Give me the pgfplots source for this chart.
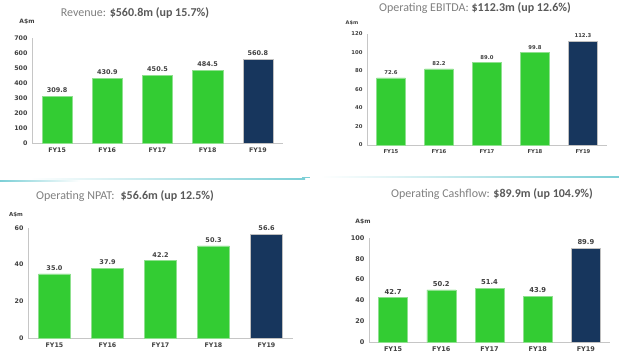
\documentclass[border=0pt]{standalone}
\usepackage{pgfplots}
\pgfplotsset{compat=1.18}
\usepackage{fontspec}
\setmainfont{Carlito}
\newfontfamily\lab{DejaVu Sans}
\definecolor{barg}{HTML}{33CC33}
\definecolor{bargl}{HTML}{8FE08F}
\definecolor{barn}{HTML}{17365D}
\definecolor{tgrey}{HTML}{7F7F7F}
\definecolor{tdark}{HTML}{595959}
\definecolor{lgrey}{HTML}{404040}
\definecolor{sep}{HTML}{7CCFD6}
\pgfplotsset{panel/.style={
  scale only axis, anchor=south west,
  axis x line*=bottom, axis y line*=left,
  axis line style={draw=gray!45, line width=0.8pt, -},
  ymin=0, xmin=-0.5, xmax=4.5,
  xtick={0,...,4}, xticklabels={FY15,FY16,FY17,FY18,FY19},
  major tick length=0pt,
  /pgf/number format/assume math mode=true,
  ticklabel style={font=\lab\bfseries\fontsize{6.3}{7}\selectfont, text=lgrey},
  yticklabel style={xshift=-1pt},
  xticklabel style={yshift=-1pt},
  nodes near coords, point meta=explicit symbolic,
  nodes near coords style={font=\lab\bfseries\fontsize{6.5}{7}\selectfont, text=lgrey},
  clip=false,
}}
\begin{document}
\begin{tikzpicture}
\path[use as bounding box] (0,0) rectangle (619pt,-361pt);
% decorative separators
\shade[left color=white, right color=sep] (30pt,-178.6pt) rectangle (305pt,-179.6pt);
\shade[left color=white, right color=sep] (320pt,-176.5pt) rectangle (619pt,-177.5pt);
\shade[left color=sep, right color=white] (0pt,-180pt) rectangle (80pt,-181pt);
\fill[sep] (302pt,-176.5pt) rectangle (310pt,-177.5pt);
% Panel 1: Revenue
\begin{axis}[panel, at={(32pt,-143pt)}, width=251pt, height=105pt,
  ymax=700, ytick={0,100,...,700}]
\addplot[ybar, bar width=0.6, fill=barg, draw=bargl] coordinates {(0,309.8)[309.8] (1,430.9)[430.9] (2,450.5)[450.5] (3,484.5)[484.5]};
\addplot[ybar, bar width=0.6, fill=barn, draw=gray!50] coordinates {(4,560.8)[560.8]};
\end{axis}
\node[font=\fontsize{12}{14}\selectfont, text=tgrey] at (135pt,-13pt) {Revenue: \textbf{\color{tdark}\$560.8m (up 15.7\%)}};
\node[font=\lab\bfseries\fontsize{6}{7}\selectfont, text=lgrey] at (27pt,-22pt) {A\$m};
% Panel 2: EBITDA
\begin{axis}[panel, at={(367pt,-145pt)}, width=240pt, height=111pt,
  ymax=120, ytick={0,20,...,120},
  ticklabel style={font=\lab\bfseries\fontsize{5.3}{6}\selectfont, text=lgrey},
  nodes near coords style={font=\lab\bfseries\fontsize{5.3}{6}\selectfont, text=lgrey}]
\addplot[ybar, bar width=0.6, fill=barg, draw=bargl] coordinates {(0,72.6)[72.6] (1,82.2)[82.2] (2,89.0)[89.0] (3,99.8)[99.8]};
\addplot[ybar, bar width=0.6, fill=barn, draw=gray!50] coordinates {(4,112.3)[112.3]};
\end{axis}
\node[font=\fontsize{12}{14}\selectfont, text=tgrey] at (475pt,-8pt) {Operating EBITDA: \textbf{\color{tdark}\$112.3m (up 12.6\%)}};
\node[font=\lab\bfseries\fontsize{5}{6}\selectfont, text=lgrey] at (352pt,-23pt) {A\$m};
% Panel 3: NPAT
\begin{axis}[panel, at={(28pt,-338pt)}, width=265pt, height=110pt,
  ymax=60, ytick={0,20,...,60}]
\addplot[ybar, bar width=0.6, fill=barg, draw=bargl] coordinates {(0,35.0)[35.0] (1,37.9)[37.9] (2,42.2)[42.2] (3,50.3)[50.3]};
\addplot[ybar, bar width=0.6, fill=barn, draw=gray!50] coordinates {(4,56.6)[56.6]};
\end{axis}
\node[font=\fontsize{12}{14}\selectfont, text=tgrey] at (125pt,-196pt) {Operating NPAT:\enspace\textbf{\color{tdark}\$56.6m (up 12.5\%)}};
\node[font=\lab\bfseries\fontsize{5.5}{6}\selectfont, text=lgrey] at (16pt,-215pt) {A\$m};
% Panel 4: Cashflow
\begin{axis}[panel, at={(369pt,-342pt)}, width=241pt, height=104pt,
  ymax=100, ytick={0,20,...,100},
  ticklabel style={font=\lab\bfseries\fontsize{6.5}{7}\selectfont, text=lgrey},
  nodes near coords style={font=\lab\bfseries\fontsize{6.8}{7}\selectfont, text=lgrey}]
\addplot[ybar, bar width=0.6, fill=barg, draw=bargl] coordinates {(0,42.7)[42.7] (1,50.2)[50.2] (2,51.4)[51.4] (3,43.9)[43.9]};
\addplot[ybar, bar width=0.6, fill=barn, draw=gray!50] coordinates {(4,89.9)[89.9]};
\end{axis}
\node[font=\fontsize{12}{14}\selectfont, text=tgrey] at (492pt,-194pt) {Operating Cashflow: \textbf{\color{tdark}\$89.9m (up 104.9\%)}};
\node[font=\lab\bfseries\fontsize{6}{7}\selectfont, text=lgrey] at (363pt,-222pt) {A\$m};
\end{tikzpicture}
\end{document}
